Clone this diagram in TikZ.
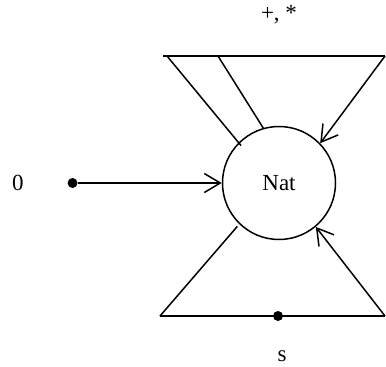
\documentclass[tikz,border=0pt]{standalone}
\usepackage{fontspec}
\setmainfont{Liberation Serif}
\usetikzlibrary{arrows.meta, positioning, calc}
\tikzset{
    sortnode/.style={circle, draw=black, line width=1.5pt, minimum size=113pt, inner sep=0pt, font=\fontsize{23}{27}\selectfont},
    opdot/.style={circle, fill=black, minimum size=10pt, inner sep=0pt},
    oplabel/.style={font=\fontsize{23}{27}\selectfont, inner sep=0pt},
    wire/.style={line width=1.5pt, draw=black},
    arrow/.style={wire, -{Straight Barb[length=16pt, width=19pt, line width=1.5pt]}}
}

\begin{document}
\begin{tikzpicture}[x=1pt, y=-1pt]
    \useasboundingbox (0,0) rectangle (386,367);
    \node[sortnode] (nat) at (279,183) {Nat};

    % constant 0
    \node[opdot, left=144pt of nat] (zdot) {};
    \node[oplabel] (zero) at (18,183) {0};
    \draw[arrow] (zdot) -- (nat);

    % binary operations +, *
    \coordinate (tl) at (163,56);
    \coordinate (tr) at (385,56);
    \coordinate (argone) at (167,56);
    \coordinate (argtwo) at (218,56);
    \node[oplabel] (binop) at (279,15) {+, *};
    \draw[wire] (tl) -- (tr);
    \draw[wire, shorten >=-4pt] (argone) -- (nat.135);
    \draw[wire] (argtwo) -- (nat.106);
    \draw[arrow] (tr) -- (nat.44);

    % successor s
    \coordinate (bl) at (160,316);
    \coordinate (br) at (385,316);
    \node[opdot] (sdot) at (278,316) {};
    \node[oplabel] (succ) at (282,356) {s};
    \draw[wire] (bl) -- (br);
    \draw[wire, shorten >=3pt] (bl) -- (nat.226);
    \draw[arrow] (br) -- (nat.-50);
\end{tikzpicture}
\end{document}
